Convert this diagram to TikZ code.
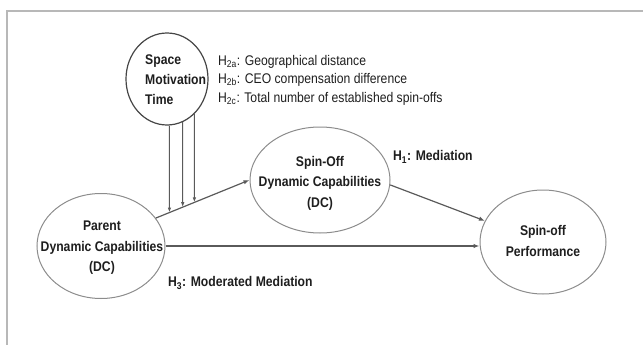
\documentclass[tikz,border=0pt]{standalone}
\usepackage{fontspec}
\setmainfont{Liberation Sans}[FakeStretch=0.87]
\usetikzlibrary{arrows.meta,calc,shapes.geometric}
\definecolor{ink}{HTML}{1E1E1E}
\definecolor{ovalline}{HTML}{8C8C8C}
\definecolor{circline}{HTML}{454545}
\definecolor{arrline}{HTML}{5A5A5A}
\definecolor{frameline}{HTML}{B8B8B8}
\tikzset{
  oval/.style={ellipse, draw=ovalline, line width=1pt, inner sep=0pt},
  circ/.style={ellipse, draw=circline, line width=1.2pt, inner sep=0pt},
  btext/.style={font=\fontsize{14}{20.5}\selectfont\bfseries, text=ink, inner sep=0pt, align=center},
  ltext/.style={font=\fontsize{14}{20}\selectfont\bfseries, text=ink, inner sep=0pt, align=left, anchor=west},
  htext/.style={font=\fontsize{14}{18.5}\selectfont, text=ink, inner sep=0pt, align=left, anchor=west},
  hbold/.style={font=\fontsize{14}{18}\selectfont\bfseries, text=ink, inner sep=0pt, anchor=west},
  arr/.style={draw=arrline, line width=1.2pt, -{Latex[length=6pt,width=4.5pt]}},
  varr/.style={draw=arrline, line width=1pt, -{Latex[length=5pt,width=3.5pt]}},
  frame/.style={draw=frameline, line width=2pt},
}
\begin{document}
\begin{tikzpicture}[x=1pt,y=-1pt]
\useasboundingbox (0,0) rectangle (643,345);
\draw[frame] (7,345) -- (7,11) -- (643,11);

% ellipses
\node[oval, minimum width=128pt, minimum height=105pt] (parent) at (101,246) {};
\node[oval, minimum width=140pt, minimum height=106pt] (spin) at (320,180) {};
\node[oval, minimum width=126pt, minimum height=104pt] (perf) at (543,242) {};
\node[circ, minimum width=82pt, minimum height=92pt] (smt) at (167,79) {};

% texts
\node[btext] (parentt) at (102,248) {Parent\\Dynamic Capabilities\\(DC)};
\node[btext] (spint) at (320,183) {Spin-Off\\Dynamic Capabilities\\(DC)};
\node[btext] (perft) at (543,241) {Spin-off\\Performance};
\node[ltext] (smtt) at (145,80) {Space\\Motivation\\Time};
\node[htext] (h2) at (218,80) {H\textsubscript{2a}: Geographical distance\\H\textsubscript{2b}: CEO compensation difference\\H\textsubscript{2c}: Total number of established spin-offs};
\node[hbold] (h1) at (393,157) {H\textsubscript{1}: Mediation};
\node[hbold] (h3) at (168,283) {H\textsubscript{3}: Moderated Mediation};

% connectors
\coordinate (pa) at (parent.27);
\coordinate (sw) at (spin.west);
\draw[arr] (pa) -- (sw);
\draw[arr] (parent.east) -- (perf.west |- parent.east);
\draw[arr] (spin.-4) -- (perf.160);

\coordinate (t1) at (smt.-87.5);
\coordinate (t2) at (smt.-70.7);
\coordinate (t3) at (smt.-52);
\coordinate (b1) at ($(t1)+(0,200)$);
\coordinate (b2) at ($(t2)+(0,200)$);
\coordinate (b3) at ($(t3)+(0,200)$);
\draw[varr] (t1) -- (intersection of t1--b1 and pa--sw);
\draw[varr] (t2) -- (intersection of t2--b2 and pa--sw);
\draw[varr] (t3) -- (intersection of t3--b3 and pa--sw);
\end{tikzpicture}
\end{document}
